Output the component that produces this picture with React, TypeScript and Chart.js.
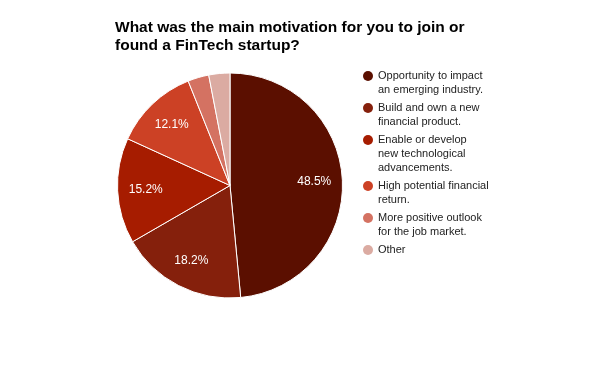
import React, { useEffect, useRef } from "react";
import { Chart, registerables } from "chart.js";

Chart.register(...registerables);

const titleLines = ["What was the main motivation for you to join or", "found a FinTech startup?"];
const categories: string[][] = [
  ["Opportunity to impact", "an emerging industry."],
  ["Build and own a new", "financial product."],
  ["Enable or develop", "new technological", "advancements."],
  ["High potential financial", "return."],
  ["More positive outlook", "for the job market."],
  ["Other"],
];
const values = [16, 6, 5, 4, 1, 1];
const colors = ["#5b0f00", "#85200c", "#a61c00", "#cc4125", "#d47262", "#dbaba2"];

const FONT = "Arial, 'Liberation Sans', sans-serif";

const decorPlugin = {
  id: "decor",
  afterDatasetsDraw(chart: any) {
    const ctx = chart.ctx;
    const meta = chart.getDatasetMeta(0);
    const total = values.reduce((a, b) => a + b, 0);
    ctx.save();
    // slice labels
    ctx.fillStyle = "#ffffff";
    ctx.font = `12px ${FONT}`;
    ctx.textAlign = "center";
    ctx.textBaseline = "middle";
    meta.data.forEach((arc: any, i: number) => {
      const pct = (values[i] / total) * 100;
      if (pct < 5) return;
      const { x, y, startAngle, endAngle, outerRadius } = arc.getProps(
        ["x", "y", "startAngle", "endAngle", "outerRadius"],
        true
      );
      const mid = (startAngle + endAngle) / 2;
      const r = outerRadius * 0.75;
      ctx.fillText(pct.toFixed(1) + "%", x + Math.cos(mid) * r, y + Math.sin(mid) * r);
    });
    // title
    ctx.fillStyle = "#000000";
    ctx.font = `bold 15.5px ${FONT}`;
    ctx.textAlign = "left";
    titleLines.forEach((t, i) => ctx.fillText(t, 115, 28 + i * 17.5));
    // legend
    ctx.font = `11px ${FONT}`;
    let y = 76;
    categories.forEach((lines, i) => {
      ctx.fillStyle = colors[i];
      ctx.beginPath();
      ctx.arc(368, y, 5, 0, Math.PI * 2);
      ctx.fill();
      ctx.fillStyle = "#222222";
      lines.forEach((l, j) => ctx.fillText(l, 378, y + j * 14));
      y += lines.length * 14 + 4;
    });
    ctx.restore();
  },
};

export default function App() {
  const ref = useRef<HTMLCanvasElement>(null);
  useEffect(() => {
    document.body.style.margin = "0";
    const chart = new Chart(ref.current!, {
      type: "pie",
      data: {
        labels: categories.map((c) => c.join(" ")),
        datasets: [
          {
            data: values,
            backgroundColor: colors,
            borderColor: "#ffffff",
            borderWidth: 1,
          },
        ],
      },
      options: {
        animation: false,
        responsive: false,
        layout: { padding: { left: 117, right: 257, top: 72, bottom: 72 } },
        plugins: {
          legend: { display: false },
          title: { display: false },
          tooltip: { enabled: false },
        },
      },
      plugins: [decorPlugin],
    });
    return () => chart.destroy();
  }, []);
  return (
    <div style={{ width: 600, height: 371, background: "#fff" }}>
      <canvas ref={ref} width={600} height={371} style={{ width: 600, height: 371 }} />
    </div>
  );
}
